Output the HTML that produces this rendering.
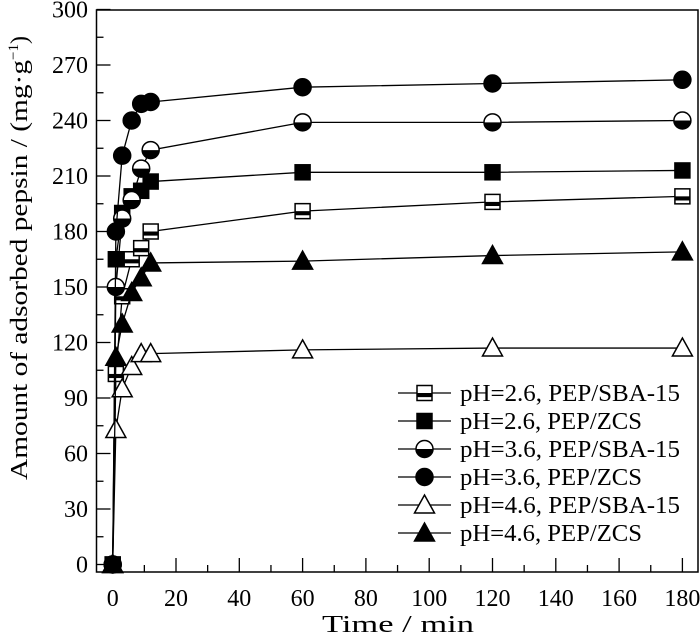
<!DOCTYPE html>
<html><head><meta charset="utf-8"><style>
body{margin:0;background:#fff}
svg text{font-family:"Liberation Serif",serif;fill:#000}
</style></head><body>
<svg id="chart" width="700" height="636" viewBox="0 0 700 636" xmlns="http://www.w3.org/2000/svg">
<g id="axes"></g><g id="series"></g><g id="legend"></g>
</svg>
<script>
const times = [0, 1, 3, 6, 9, 12, 60, 120, 180];
const sba26 = [0, 103, 145, 165, 171, 180, 191, 196, 199];
const zcs26 = [0, 165, 190, 199, 202, 207, 212, 212, 213];
const sba36 = [0, 150, 187, 197, 214, 224, 239, 239, 240];
const zcs36 = [0, 180, 221, 240, 249, 250, 258, 260, 262];
const sba46 = [0, 73, 95, 107, 114, 114, 116, 117, 117];
const zcs46 = [0, 112, 130, 147, 155, 163, 164, 167, 169];
const xTicks = [0, 20, 40, 60, 80, 100, 120, 140, 160, 180];
const yTicks = [0, 30, 60, 90, 120, 150, 180, 210, 240, 270, 300];
const labels = ["pH=2.6, PEP/SBA-15","pH=2.6, PEP/ZCS","pH=3.6, PEP/SBA-15","pH=3.6, PEP/ZCS","pH=4.6, PEP/SBA-15","pH=4.6, PEP/ZCS"];

const NS="http://www.w3.org/2000/svg";
const L=96.5,R=698,T=10,B=572;
function sx(v){return 112.7+(v)*3.165;}
function sy(v){return 564.5-v*1.85;}
function mk(tag,attrs,parent){const e=document.createElementNS(NS,tag);for(const k in attrs)e.setAttribute(k,attrs[k]);parent.appendChild(e);return e;}
const axes=document.getElementById('axes');
const frame=mk('rect',{x:L,y:T,width:R-L,height:B-T,fill:'none',stroke:'#000','stroke-width':1.5},axes);


for(let i=0;i<xTicks.length;i++){
  const v=xTicks[i];
  const t=mk('line',{x1:sx(v),x2:sx(v),y1:B,y2:B-14,stroke:'#000','stroke-width':1.3},axes);
  
  
  if(i<xTicks.length-1){const m=mk('line',{x1:sx(v+10),x2:sx(v+10),y1:B,y2:B-7,stroke:'#000','stroke-width':1.3},axes);
  
  }
  const lb=mk('text',{x:sx(v),y:606,'text-anchor':'middle','font-size':24},axes);lb.textContent=v;
  
  
}
for(let i=0;i<yTicks.length;i++){
  const v=yTicks[i];
  const t=mk('line',{x1:L,x2:L+14,y1:sy(v),y2:sy(v),stroke:'#000','stroke-width':1.3},axes);
  
  
  if(i<yTicks.length-1){const m=mk('line',{x1:L,x2:L+7,y1:sy(v+15),y2:sy(v+15),stroke:'#000','stroke-width':1.3},axes);
  
  }
  const lb=mk('text',{x:88,y:sy(v)+8,'text-anchor':'end','font-size':24},axes);lb.textContent=v;
  
  
}
const xt=mk('text',{x:322,y:632,'font-size':24,textLength:152,lengthAdjust:'spacingAndGlyphs'},axes);xt.textContent='Time / min';


const yt=mk('text',{x:0,y:0,'font-size':24,transform:'translate(27,480) rotate(-90)'},axes);
yt.innerHTML='<tspan textLength="420" lengthAdjust="spacingAndGlyphs">Amount of adsorbed pepsin / (mg·g</tspan><tspan dy="-9" font-size="15">−1</tspan><tspan dy="9">)</tspan>';



function marker(g,type,x,y){
  const s=7.5;
  if(type==='sq'||type==='sqh'){
    mk('rect',{x:x-s,y:y-s,width:2*s,height:2*s,fill:type==='sq'?'#000':'#fff',stroke:'#000','stroke-width':1.5},g);
    if(type==='sqh')mk('rect',{x:x-s,y:y,width:2*s,height:s*0.55,fill:'#000'},g);
  }else if(type==='ci'||type==='cih'){
    mk('circle',{cx:x,cy:y,r:8.5,fill:type==='ci'?'#000':'#fff',stroke:'#000','stroke-width':1.5},g);
    if(type==='cih')mk('path',{d:`M${x-8.5},${y} A8.5,8.5 0 0 0 ${x+8.5},${y} Z`,fill:'#000'},g);
  }else{
    mk('polygon',{points:`${x},${y-10} ${x+10},${y+8} ${x-10},${y+8}`,fill:type==='tr'?'#000':'#fff',stroke:'#000','stroke-width':1.5},g);
  }
}
const seriesList=[[sba26,'sqh'],[zcs26,'sq'],[sba36,'cih'],[zcs36,'ci'],[sba46,'trh'],[zcs46,'tr']];
const sg=document.getElementById('series');
seriesList.forEach((s,i)=>{
  const g=mk('g',{},sg);
  
  
  const pts=times.map((t,j)=>sx(t)+','+sy(s[0][j])).join(' ');
  mk('polyline',{points:pts,fill:'none',stroke:'#000','stroke-width':1.3},g);
  times.forEach((t,j)=>marker(g,s[1],sx(t),sy(s[0][j])));
});
const lg=document.getElementById('legend');
seriesList.forEach((s,i)=>{
  const y=393+i*28;
  const g=mk('g',{},lg);
  
  
  mk('line',{x1:398,x2:451,y1:y,y2:y,stroke:'#000','stroke-width':1.3},g);
  marker(g,s[1],424.5,y);
  const w=labels[i].indexOf('SBA')>=0?220:182;
  const t=mk('text',{x:460,y:y+8,'font-size':24,textLength:w,lengthAdjust:'spacingAndGlyphs'},g);t.textContent=labels[i];
});
</script>
</body></html>
